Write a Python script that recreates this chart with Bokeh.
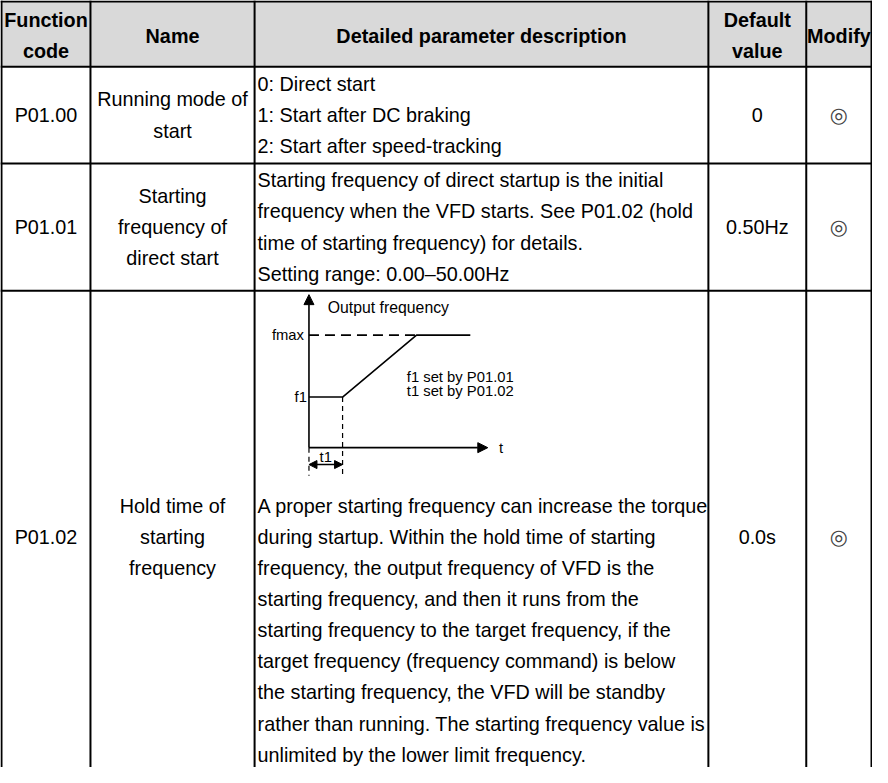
from bokeh.plotting import figure
from bokeh.models import Range1d, Arrow, NormalHead
from bokeh.embed import file_html
from bokeh.resources import INLINE
from bokeh.core.properties import value

# ---------------- data ----------------
header_lines = [["Function", "code"], ["Name"], ["Detailed parameter description"], ["Default", "value"], ["Modify"]]
codes = ["P01.00", "P01.01", "P01.02"]
names = [
    ["Running mode of", "start"],
    ["Starting", "frequency of", "direct start"],
    ["Hold time of", "starting", "frequency"],
]
descriptions = [
    ["0: Direct start", "1: Start after DC braking", "2: Start after speed-tracking"],
    ["Starting frequency of direct startup is the initial",
     "frequency when the VFD starts. See P01.02 (hold",
     "time of starting frequency) for details.",
     "Setting range: 0.00\u201350.00Hz"],
    ["A proper starting frequency can increase the torque",
     "during startup. Within the hold time of starting",
     "frequency, the output frequency of VFD is the",
     "starting frequency, and then it runs from the",
     "starting frequency to the target frequency, if the",
     "target frequency (frequency command) is below",
     "the starting frequency, the VFD will be standby",
     "rather than running. The starting frequency value is",
     "unlimited by the lower limit frequency."],
]
defaults = ["0", "0.50Hz", "0.0s"]
modify = ["\u25CE", "\u25CE", "\u25CE"]

# schematic start-up diagram (t in units of t1, f in units of fmax)
profile_t = [0.0, 1.0, 3.2, 4.8]
profile_f = [0.45, 0.45, 1.0, 1.0]
level_labels = ["fmax", "f1"]
level_values = [1.0, 0.45]
t1_value = 1.0
diagram_notes = ["f1 set by P01.01", "t1 set by P01.02"]
axis_titles = ["Output frequency", "t"]

# ---------------- layout (reference pixel frame) ----------------
S = 0.988
col_x = [7, 97, 263, 722, 821, 887]
row_y = [7, 73, 171, 300, 800]
pitch = 31.5
FONT = value("Liberation Sans")
fs_body = value(f"{20 * S:.1f}px")

p = figure(width=872, height=767, x_range=Range1d(6, 888), y_range=Range1d(783, 6),
           output_backend="svg", toolbar_location=None,
           x_axis_location=None, y_axis_location=None, min_border=0)
p.grid.visible = False
p.outline_line_color = None
p.background_fill_color = "white"
p.border_fill_color = "white"

# header background
p.quad(left=[col_x[0]], right=[col_x[-1]], top=[row_y[0]], bottom=[row_y[1]],
       fill_color="#d9d9d9", line_color=None)

# grid lines
vx0 = list(col_x)
vy0 = [row_y[0]] * len(col_x)
vy1 = [row_y[-1]] * len(col_x)
p.segment(x0=vx0, y0=vy0, x1=vx0, y1=vy1, line_color="black", line_width=2, line_cap="square")
hy = row_y[:-1]
p.segment(x0=[col_x[0]] * len(hy), y0=hy, x1=[col_x[-1]] * len(hy), y1=hy,
          line_color="black", line_width=2, line_cap="square")

centers = [(col_x[i] + col_x[i + 1]) / 2 for i in range(5)]

# header text
hx, hy_, ht = [], [], []
hc = (row_y[0] + row_y[1]) / 2 + 1.5
for i, lines in enumerate(header_lines):
    n = len(lines)
    for k, t in enumerate(lines):
        hx.append(centers[i])
        hy_.append(hc + (k - (n - 1) / 2) * pitch)
        ht.append(t)
p.text(x=hx, y=hy_, text=ht, text_font=FONT, text_font_size=fs_body, text_font_style="bold",
       text_align="center", text_baseline="middle", text_color="black")

# body text
bx, by, bt = [], [], []
lx, ly, lt = [], [], []
sx, sy, st = [], [], []
for r in range(3):
    n = len(descriptions[r])
    if r == 2:
        first = 518
        rc = first + pitch  # name/code centred on second text line
        for k, t in enumerate(descriptions[r]):
            lx.append(col_x[2] + 3); ly.append(first + k * pitch); lt.append(t)
    else:
        rc = (row_y[r + 1] + row_y[r + 2]) / 2
        for k, t in enumerate(descriptions[r]):
            lx.append(col_x[2] + 3); ly.append(rc + (k - (n - 1) / 2) * pitch); lt.append(t)
    bx.append(centers[0]); by.append(rc); bt.append(codes[r])
    nn = len(names[r])
    for k, t in enumerate(names[r]):
        bx.append(centers[1]); by.append(rc + (k - (nn - 1) / 2) * pitch); bt.append(t)
    bx.append(centers[3]); by.append(rc); bt.append(defaults[r])
    sx.append(centers[4]); sy.append(rc); st.append(modify[r])

p.text(x=bx, y=by, text=bt, text_font=FONT, text_font_size=fs_body,
       text_align="center", text_baseline="middle", text_color="black")
p.text(x=lx, y=ly, text=lt, text_font=FONT, text_font_size=fs_body,
       text_align="left", text_baseline="middle", text_color="black")
p.text(x=sx, y=sy, text=st, text_font=value("DejaVu Sans"), text_font_size=value(f"{21 * S:.1f}px"),
       text_align="center", text_baseline="middle", text_color="#444444")

# ---------------- diagram via extra ranges ----------------
ox, oy = 318, 459
ppt, ppf = 34.0, 114.0
p.extra_x_ranges = {"dt": Range1d((6 - ox) / ppt, (888 - ox) / ppt)}
p.extra_y_ranges = {"df": Range1d((oy - 783) / ppf, (oy - 6) / ppf)}
D = dict(x_range_name="dt", y_range_name="df")
lw = 1.6

p.line(profile_t, profile_f, line_color="black", line_width=lw, **D)
p.line([0, profile_t[2]], [level_values[0], level_values[0]], line_color="black",
       line_width=lw, line_dash="10 6", **D)
below = -0.25
p.line([t1_value, t1_value], [level_values[1], below], line_color="black", line_width=1.2,
       line_dash="5 4", **D)
p.line([0, 0], [0, below], line_color="black", line_width=1.2, line_dash="5 4", **D)

p.add_layout(Arrow(end=NormalHead(size=10, fill_color="black", line_color="black"),
                   x_start=0, y_start=0, x_end=0, y_end=1.36,
                   line_color="black", line_width=lw, **D))
p.add_layout(Arrow(end=NormalHead(size=10, fill_color="black", line_color="black"),
                   x_start=0, y_start=0, x_end=5.32, y_end=0,
                   line_color="black", line_width=lw, **D))
p.add_layout(Arrow(start=NormalHead(size=8, fill_color="black", line_color="black"),
                   end=NormalHead(size=8, fill_color="black", line_color="black"),
                   x_start=0, y_start=-0.15, x_end=t1_value, y_end=-0.15,
                   line_color="black", line_width=lw, **D))

fs_small = value(f"{15 * S:.1f}px")
p.text(x=[0, 0], y=level_values, text=level_labels, x_offset=[-5, -2],
       text_font=FONT, text_font_size=fs_small, text_align="right", text_baseline="middle", **D)
p.text(x=[0.56], y=[1.25], text=[axis_titles[0]], text_font=FONT, text_font_size=value(f"{16 * S:.1f}px"),
       text_align="left", text_baseline="middle", **D)
p.text(x=[5.65], y=[0.0], text=[axis_titles[1]], text_font=FONT, text_font_size=fs_small,
       text_align="left", text_baseline="middle", **D)
p.text(x=[t1_value / 2], y=[-0.085], text=["t1"], text_font=FONT, text_font_size=fs_small,
       text_align="center", text_baseline="middle", **D)
p.text(x=[2.91, 2.91], y=[0.625, 0.50], text=diagram_notes, text_font=FONT,
       text_font_size=value(f"{15 * S:.1f}px"), text_align="left", text_baseline="middle", **D)

open("out.html", "w").write(file_html(p, INLINE))
